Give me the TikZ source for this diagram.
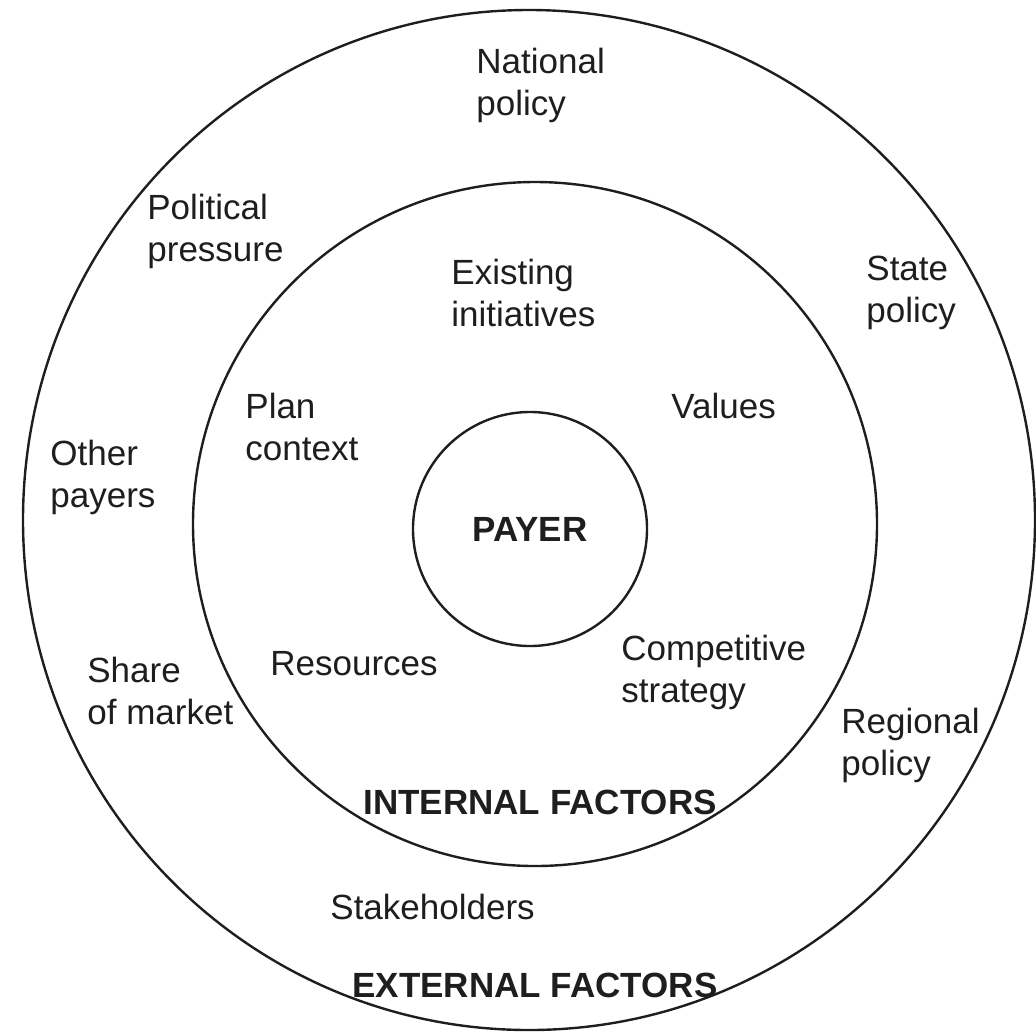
\documentclass[tikz,border=0pt]{standalone}
\usepackage{fontspec}
\setmainfont{Liberation Sans}
\usetikzlibrary{positioning, shapes.geometric}
\definecolor{inkgray}{RGB}{30, 30, 30}
\tikzset{
  ring/.style={
    draw=inkgray, circle,
    line width=1.2pt,
    inner sep=0pt
  },
  factor/.style={
    font=\fontsize{17.5}{21}\selectfont,
    text=inkgray, align=left,
    anchor=west, inner sep=0pt
  },
  heading/.style={
    font=\fontsize{17.5}{21}\selectfont\bfseries,
    text=inkgray, inner sep=0pt
  }
}

\begin{document}
\begin{tikzpicture}[x=0.5pt, y=-0.5pt]
\useasboundingbox (0,0) rectangle (1036,1034);

% Anillos concentricos
\node[ring, ellipse, minimum width=506pt, minimum height=510pt] (external) at (529,520) {};
\node[ring, minimum size=342pt] (internal) at (535,524) {};
\node[ring, minimum size=117pt, heading] (payer) at (530,529) {PAYER};

% Factores externos
\node[factor] (national) at (476,85) {National\\policy};
\node[factor] (political) at (147,231) {Political\\pressure};
\node[factor] (state) at (866,293) {State\\policy};
\node[factor] (otherpay) at (50,477) {Other\\payers};
\node[factor] (share) at (87,691) {Share\\of market};
\node[factor] (regional) at (841,745) {Regional\\policy};
\node[factor] (stake) at (330,907) {Stakeholders};

% Factores internos
\node[factor] (existing) at (451,293) {Existing\\initiatives};
\node[factor] (plan) at (245,427) {Plan\\context};
\node[factor] (values) at (671,406) {Values};
\node[factor] (resources) at (270,664) {Resources};
\node[factor] (compet) at (621,672) {Competitive\\strategy};

% Titulos de los anillos
\node[heading] (intlabel) at (540,802) {INTERNAL FACTORS};
\node[heading] (extlabel) at (535,985) {EXTERNAL FACTORS};

\end{tikzpicture}
\end{document}
